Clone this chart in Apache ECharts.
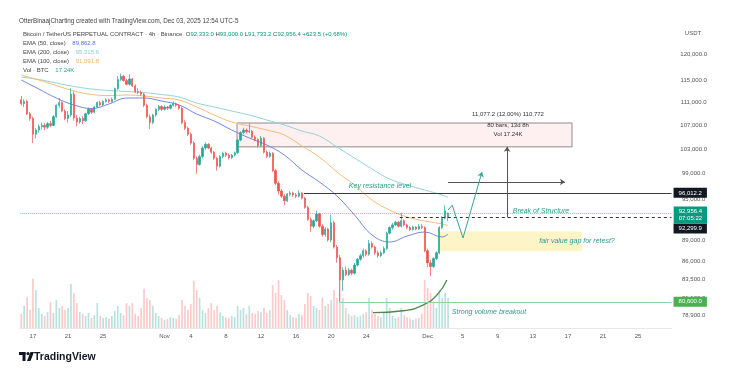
<!DOCTYPE html>
<html><head><meta charset="utf-8">
<script src="https://cdn.jsdelivr.net/npm/echarts@6/dist/echarts.min.js"></script>
<style>html,body{margin:0;padding:0;background:#fff}#c{width:743px;height:374px}</style>
</head><body><div id="c"></div>
<script>
// ---- data (8h candles, times UTC-5) ----
const startUTC = Date.UTC(2025, 9, 15, 16);
const nCats = 223;
const opens = [111500,110800,111200,109000,108200,105500,106200,106800,107000,106700,
107300,107000,108500,110500,111000,109500,108200,108800,112500,108300,
107600,108200,107800,109000,109800,109300,110200,111000,110600,111200,
111500,111200,111600,113500,115200,115800,115000,114300,115300,114000,
113000,112800,112500,110500,108500,107500,108800,109800,110300,109800,
110200,110000,110500,110800,110500,110000,107500,106500,105500,104000,
101500,100500,101800,103200,103800,103200,102500,101500,100200,101800,
102300,102000,101600,102000,102400,104500,105800,106200,105900,106000,
105000,104600,103600,104800,102500,101800,102300,99500,97500,96300,
95500,94800,95800,96000,95700,95500,96000,95200,93800,92000,
91000,91800,92800,91000,89800,90600,89000,91500,88000,86500,
83500,84800,84200,84800,84400,85500,86300,86800,87500,87000,
88500,88000,87200,86800,87200,87800,90000,90800,91200,91600,
91000,91800,91200,90800,90500,90900,90600,91000,90800,87500,
85800,85300,86400,87200,90800,92200,92333];
const closes = [110800,111200,109000,108200,105500,106200,106800,107000,106700,107300,
107000,108500,110500,111000,109500,108200,108800,112500,108300,107600,
108200,107800,109000,109800,109300,110200,111000,110600,111200,111500,
111200,111600,113500,115200,115800,115000,114300,115300,114000,113000,
112800,112500,110500,108500,107500,108800,109800,110300,109800,110200,
110000,110500,110800,110500,110000,107500,106500,105500,104000,101500,
100500,101800,103200,103800,103200,102500,101500,100200,101800,102300,
102000,101600,102000,102400,104500,105800,106200,105900,106000,105000,
104600,103600,104800,102500,101800,102300,99500,97500,96300,95500,
94800,95800,96000,95700,95500,96000,95200,93800,92000,91000,
91800,92800,91000,89800,90600,89000,91500,88000,86500,83500,
84800,84200,84800,84400,85500,86300,86800,87500,87000,88500,
88000,87200,86800,87200,87800,90000,90800,91200,91600,91000,
91800,91200,90800,90500,90900,90600,91000,90800,87500,85800,
85300,86400,87200,90800,92200,93300,92956.4];
const highs = [112200,111600,111500,109300,108500,106500,107200,107500,107400,107600,
107800,108800,110700,111800,111200,109800,109500,113600,113000,108800,
108500,108600,109200,110100,110000,110400,111200,111300,111400,111800,
111700,111900,113700,115800,116300,116000,115300,116200,115500,114300,
113600,113200,112700,110800,108900,109000,110000,110600,110500,110500,
110400,110700,111200,111000,110700,110200,107900,106800,105800,104300,
101800,102100,103500,104100,104000,103400,102700,101700,102000,102600,
102600,102300,102200,102600,104700,106000,106600,106500,107400,106200,
105300,104800,105200,105000,102800,102600,102500,99800,97800,96600,
95800,96000,96300,96200,96000,96400,96100,95400,94000,92300,
92000,93300,93000,91300,90900,90800,92700,91800,88300,86900,
85200,85300,85100,85000,85800,86500,87100,87800,87700,89000,
88800,88200,87500,87500,88100,90200,91000,91500,91800,91800,
93000,92000,91400,91000,91100,91000,91300,91300,91000,87800,
86200,86600,87400,91000,92500,94100,93000];
const lows = [110500,110200,108800,107800,104000,104800,105800,106300,106200,106400,
106700,106900,108300,110100,109300,107900,107500,108500,107800,106800,
107300,107200,107600,108800,109000,109100,110000,110300,110400,111000,
110900,111000,111500,113300,114900,114800,114100,114100,113800,112700,
112500,112200,110200,108200,106400,107200,108500,109500,109500,109600,
109700,109800,110300,110200,109700,107200,106200,105200,103700,101200,
99000,100300,101500,102900,103000,102200,101200,99500,100000,101500,
101700,101300,101400,101800,102200,104300,105500,105600,105700,104800,
104300,103300,103400,102300,101500,101600,99300,97200,95800,95200,
94100,94600,95500,95400,95200,95300,95000,93600,91800,90200,
90700,91600,90800,89500,89500,88800,88700,87800,85800,80600,
82000,84000,84000,84100,84200,85300,86100,86500,86700,86800,
87800,86900,86500,86600,87000,87600,89800,90500,91000,90800,
90800,91000,90600,90300,90400,90400,90500,90600,87300,85200,
84000,85100,86200,87000,90600,92000,91733.2];
const volumes = [34,53,74,43,118,91,48,34,29,38,
62,36,67,48,53,43,48,106,84,60,
38,34,29,36,24,31,60,29,24,26,
22,29,41,53,36,31,60,53,60,34,
29,48,94,72,67,53,36,29,24,19,
22,26,24,22,31,67,53,43,58,113,
91,72,43,36,48,60,43,53,38,29,
26,24,29,26,53,43,48,34,53,36,
34,41,38,48,36,43,103,84,115,79,
67,43,31,26,24,34,31,58,84,77,
53,48,43,72,53,58,67,91,72,120,
72,48,34,29,31,26,29,34,38,72,
43,34,29,26,38,72,48,29,24,26,
48,31,26,22,19,22,24,34,115,96,
84,60,48,91,72,84,72];
const emaIdx = [0,6,12,18,24,30,36,42,48,54,60,66,72,78,84,90,96,102,108,114,120,126,132,138,144,146];
const ema50  = [115090,113440,111810,110560,109940,110740,111810,111810,111280,110560,108980,107760,106210,104860,103680,102030,99600,97700,95530,92660,89730,88720,89580,90160,89440,89863];
const ema100 = [116020,115090,114080,113080,112450,112260,112350,112170,111810,111450,110210,108800,107580,106900,106210,105360,103520,101700,99280,97230,94915,93400,92360,91770,91330,91092];
const ema200 = [115650,115180,114540,113900,113440,113170,112990,112800,112440,111990,110920,110210,109500,108800,107930,107070,106040,105190,103350,101540,99760,98170,97230,96450,95680,95316];
const priceTicks = [120000,115000,111000,107000,103000,99000,95000,89000,86000,83500,81100,78900];
const priceMin = 77280, priceMax = 125120;
const xTickCats = ['2025-10-17 00:00','2025-10-21 00:00','2025-10-25 00:00','2025-11-01 00:00','2025-11-04 00:00','2025-11-08 00:00','2025-11-12 00:00','2025-11-16 00:00','2025-11-20 00:00','2025-11-24 00:00','2025-12-01 00:00','2025-12-05 00:00','2025-12-09 00:00','2025-12-13 00:00','2025-12-17 00:00','2025-12-21 00:00','2025-12-25 00:00'];
const xTickText = ['17','21','25','Nov','4','8','12','16','20','24','Dec','5','9','13','17','21','25'];
// annotation levels (category index, price)
const resistance = 96012.2, bos = 92299.9, lowLevel = 80600, lastPrice = 92956.4;
const measureLow = 92299.9, measureHigh = 103377.1;
const arcIdx = [120.3,130.6,137.4,142.2,145.6];
const arcPrice = [79200,79450,80180,81480,83480];
const projIdx = [146.0,147.4,151.1,157.6];
const projPrice = [93400,94150,89300,99290];

// ---- build ----
const L = Math.log;
const fmt = n => n.toFixed(1).replace(/\B(?=(\d{3})+(?!\d))/g, ',');
const cats = [];
for (let i = 0; i < nCats; i++) {
  const s = new Date(startUTC + i * 8 * 3600e3).toISOString();
  cats.push(s.slice(0, 10) + ' ' + s.slice(11, 16));
}
const candleData = opens.map((o, i) => [L(o), L(closes[i]), L(lows[i]), L(highs[i])]);
const volData = volumes.map((v, i) => ({value: v, itemStyle: {color: closes[i] >= opens[i] ? 'rgba(38,166,154,0.32)' : 'rgba(239,83,80,0.30)'}}));
const emaPts = arr => emaIdx.map((ix, k) => [ix, L(arr[k])]);
const xEnd = nCats - 0.55;
const FONT = 'Liberation Sans, Arial, sans-serif';
const teal = '#2a9d8f';

function priceTag(text, bg, offset) {
  return {show: true, position: 'end', distance: 2, formatter: text, backgroundColor: bg, color: '#fff',
          fontSize: 6, padding: [1.5, 5], lineHeight: 7, fontFamily: FONT, offset: offset || [0, 0], opacity: 1};
}
function textPt(i, p, text, opts) {
  return {coord: [i, L(p)], symbol: 'circle', symbolSize: 1, itemStyle: {color: 'rgba(0,0,0,0)'},
          label: Object.assign({show: true, position: 'inside', formatter: text, fontFamily: FONT}, opts)};
}
const annItalic = {color: teal, fontStyle: 'italic', fontSize: 7};
const annMeasure = {color: '#333', fontSize: 6};

const projSegs = [];
for (let k = 0; k < projIdx.length - 1; k++) {
  projSegs.push([{coord: [projIdx[k], L(projPrice[k])], symbol: 'none'},
                 {coord: [projIdx[k + 1], L(projPrice[k + 1])], symbol: k === projIdx.length - 2 ? 'arrow' : 'none'}]);
}

const option = {
  animation: false,
  backgroundColor: '#fff',
  textStyle: {fontFamily: FONT},
  grid: [
    {left: 19.8, right: 71.3, top: 28, height: 300, outerBoundsMode: 'none'},
    {left: 19.8, right: 71.3, top: 278, height: 50, outerBoundsMode: 'none'}
  ],
  xAxis: [
    {type: 'category', gridIndex: 0, data: cats, boundaryGap: true,
     axisLine: {show: true, lineStyle: {color: '#e6e8ee'}}, axisTick: {show: false}, splitLine: {show: false},
     axisLabel: {interval: (idx, val) => xTickCats.indexOf(val) >= 0,
                 formatter: val => xTickText[xTickCats.indexOf(val)] || '',
                 fontSize: 6, color: '#555', margin: 5, hideOverlap: false}},
    {type: 'value', gridIndex: 0, min: -0.5, max: nCats - 0.5, show: false},
    {type: 'category', gridIndex: 1, data: cats, boundaryGap: true, show: false}
  ],
  yAxis: [
    {type: 'value', gridIndex: 0, position: 'right', min: L(priceMin), max: L(priceMax), scale: true,
     splitLine: {show: false}, axisLine: {show: false}, axisTick: {show: false},
     axisLabel: {customValues: priceTicks.map(L), formatter: v => fmt(Math.round(Math.exp(v))),
                 fontSize: 6, color: '#555', align: 'center', margin: 22}},
    {type: 'value', gridIndex: 1, min: 0, max: 120, show: false}
  ],
  series: [
    {name: 'Vol', type: 'bar', xAxisIndex: 2, yAxisIndex: 1, data: volData, barWidth: 1.7, z: 1, silent: true},
    {name: 'annot', type: 'line', xAxisIndex: 1, yAxisIndex: 0, data: [], z: 1, silent: true,
     markArea: {silent: true, label: {show: false}, data: [
       [{coord: [73.8, L(107410)], itemStyle: {color: 'rgba(242,54,69,0.08)', borderColor: '#8c8c8c', borderWidth: 1}},
        {coord: [188.4, L(measureHigh)]}],
       [{coord: [142.6, L(90230)], itemStyle: {color: 'rgba(250,228,110,0.38)', borderWidth: 0}},
        {coord: [191.8, L(87400)]}]
     ]},
     markLine: {silent: true, symbol: ['none', 'none'], symbolSize: 5, label: {show: false}, data: [
       [{coord: [96.7, L(resistance)], lineStyle: {color: '#3b3b3b', width: 1, type: 'solid'}, label: priceTag('96,012.2', '#131722')},
        {coord: [xEnd, L(resistance)]}],
       [{coord: [129.5, L(bos)], lineStyle: {color: '#333', width: 1, type: [3, 3]}, label: priceTag('92,299.9', '#131722', [0, 11])},
        {coord: [xEnd, L(bos)]}],
       [{coord: [109, L(lowLevel)], lineStyle: {color: '#8fd19e', width: 1, type: 'solid'}, label: priceTag('80,600.0', '#4caf50')},
        {coord: [xEnd, L(lowLevel)]}],
       [{coord: [146, L(97700)], symbol: 'none', lineStyle: {color: '#555', width: 1, type: 'solid'}},
        {coord: [186, L(97700)], symbol: 'arrow'}],
       [{coord: [166.2, L(measureLow)], symbol: 'none', lineStyle: {color: '#555', width: 1, type: 'solid'}},
        {coord: [166.2, L(measureHigh)], symbol: 'arrow'}]
     ].concat(projSegs.map(s => [Object.assign({lineStyle: {color: '#3aa39a', width: 1, type: 'solid'}}, s[0]), s[1]]))},
     markPoint: {silent: true, data: [
       textPt(122.7, 97000, 'Key resistance level', annItalic),
       textPt(177.8, 93250, 'Break of Structure', annItalic),
       textPt(190.1, 88870, 'fair value gap for retest?', annItalic),
       textPt(160.0, 79300, 'Strong volume breakout', annItalic),
       textPt(166.5, 108970, '11,077.2 (12.00%) 110,772', annMeasure),
       textPt(166.5, 107000, '80 bars, 13d 8h', annMeasure),
       textPt(166.5, 105450, 'Vol 17.24K', annMeasure)
     ]}},
    {name: 'EMA200', type: 'line', xAxisIndex: 1, yAxisIndex: 0, data: emaPts(ema200), smooth: 0.4, symbol: 'none',
     lineStyle: {color: '#95d3d3', width: 1}, z: 2, silent: true},
    {name: 'EMA100', type: 'line', xAxisIndex: 1, yAxisIndex: 0, data: emaPts(ema100), smooth: 0.4, symbol: 'none',
     lineStyle: {color: '#f5bd78', width: 1}, z: 2, silent: true},
    {name: 'EMA50', type: 'line', xAxisIndex: 1, yAxisIndex: 0, data: emaPts(ema50), smooth: 0.4, symbol: 'none',
     lineStyle: {color: '#7488df', width: 1}, z: 2, silent: true},
    {name: 'arc', type: 'line', xAxisIndex: 1, yAxisIndex: 0, data: arcIdx.map((x, k) => [x, L(arcPrice[k])]),
     smooth: 0.5, symbol: 'none', lineStyle: {color: '#4b8b4b', width: 1.3}, z: 2, silent: true},
    {name: 'BTC', type: 'candlestick', xAxisIndex: 0, yAxisIndex: 0, data: candleData, barWidth: 1.8, z: 3, silent: true,
     itemStyle: {color: '#26a69a', color0: '#ef5350', borderColor: '#26a69a', borderColor0: '#ef5350', borderWidth: 0.7},
     markLine: {silent: true, symbol: ['none', 'none'], data: [
       {yAxis: L(lastPrice), lineStyle: {color: 'rgba(38,166,154,0.6)', type: 'dotted', width: 1},
        label: priceTag('92,956.4\n07:05:22', '#089981', [0, 2])}
     ]}}
  ],
  graphic: [
    {type: 'text', x: 19, y: 21, style: {text: 'OtterBinaajCharting created with TradingView.com, Dec 03, 2025 12:54 UTC-5', fontSize: 6.3, fill: '#444', fontFamily: FONT, verticalAlign: 'middle'}},
    {type: 'text', x: 23, y: 34, style: {
      text: '{g|Bitcoin / TetherUS PERPETUAL CONTRACT · 4h · Binance  O}{v|92,333.0}{g| H}{v|93,000.0}{g| L}{v|91,733.2}{g| C}{v|92,956.4}{v| +623.5 (+0.68%)}',
      verticalAlign: 'middle', fontFamily: FONT,
      rich: {g: {fill: '#444', fontSize: 6, fontFamily: FONT}, v: {fill: '#089981', fontSize: 6, fontFamily: FONT}}}},
    {type: 'text', x: 23, y: 43, style: {text: '{g|EMA (50, close)}  {v|89,862.8}', verticalAlign: 'middle',
      rich: {g: {fill: '#444', fontSize: 6, fontFamily: FONT}, v: {fill: '#5b6ee1', fontSize: 6, fontFamily: FONT}}}},
    {type: 'text', x: 23, y: 52, style: {text: '{g|EMA (200, close)}  {v|95,315.6}', verticalAlign: 'middle',
      rich: {g: {fill: '#444', fontSize: 6, fontFamily: FONT}, v: {fill: '#86cfcf', fontSize: 6, fontFamily: FONT}}}},
    {type: 'text', x: 23, y: 61, style: {text: '{g|EMA (100, close)}  {v|91,091.8}', verticalAlign: 'middle',
      rich: {g: {fill: '#444', fontSize: 6, fontFamily: FONT}, v: {fill: '#f2b35c', fontSize: 6, fontFamily: FONT}}}},
    {type: 'text', x: 23, y: 70, style: {text: '{g|Vol · BTC}  {v|17.24K}', verticalAlign: 'middle',
      rich: {g: {fill: '#444', fontSize: 6, fontFamily: FONT}, v: {fill: '#26a69a', fontSize: 6, fontFamily: FONT}}}},
    {type: 'text', x: 693, y: 33, style: {text: 'USDT', align: 'center', verticalAlign: 'middle', fontSize: 6, fill: '#555', fontFamily: FONT}},
    {type: 'group', x: 19, y: 352, children: [
      {type: 'rect', shape: {x: 0, y: 0, width: 6.5, height: 3}, style: {fill: '#131722'}},
      {type: 'rect', shape: {x: 3.5, y: 0, width: 3, height: 9}, style: {fill: '#131722'}},
      {type: 'circle', shape: {cx: 9, cy: 1.6, r: 1.6}, style: {fill: '#131722'}},
      {type: 'polygon', shape: {points: [[11.5, 0], [15, 0], [11.5, 9], [8, 9]]}, style: {fill: '#131722'}}
    ]},
    {type: 'text', x: 34, y: 357, style: {text: 'TradingView', verticalAlign: 'middle', fontSize: 10.5, fontWeight: 'bold', fill: '#131722', fontFamily: FONT}}
  ]
};
const chart = echarts.init(document.getElementById('c'));
chart.setOption(option);
</script>
</body></html>
